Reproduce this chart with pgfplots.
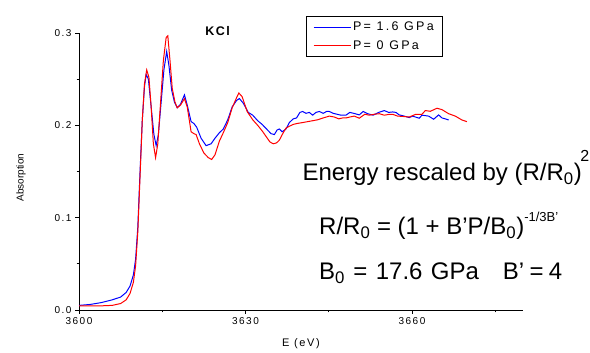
\documentclass[border=0pt]{standalone}
\usepackage{fontspec}
\setmainfont{Liberation Sans}
\newfontfamily\spfont[LetterSpace=15]{Liberation Sans}
\newfontfamily\legfontfam[LetterSpace=18]{Liberation Sans}
\newfontfamily\titlefont[LetterSpace=12]{Liberation Sans Bold}
\usepackage{pgfplots}
\pgfplotsset{compat=1.18}
\begin{document}
\begin{tikzpicture}
\path[use as bounding box] (0,0) rectangle (590pt,353pt);
\begin{axis}[
  at={(79pt,43pt)}, anchor=south west,
  scale only axis, width=444pt, height=277pt,
  xmin=3600, xmax=3680, ymin=0, ymax=0.3,
  clip=false,
  axis x line*=bottom, axis y line*=left,
  axis line style={-, line width=0.8pt, black},
  tick align=outside, major tick length=4pt, minor tick length=2.5pt,
  tick style={black, line width=0.8pt},
  xtick={3600,3630,3660}, minor xtick={3615,3645,3675},
  ytick={0,0.1,0.2,0.3}, minor ytick={0.05,0.15,0.25},
  /pgf/number format/assume math mode=true,
  yticklabel style={/pgf/number format/.cd,fixed,fixed zerofill,precision=1},
  xticklabel style={/pgf/number format/1000 sep={}},
  tick label style={font=\spfont\fontsize{10}{12}\selectfont},
  xlabel={E (eV)}, ylabel={Absorption},
  every axis x label/.style={at={(rel axis cs:0.5,-0.12)}, anchor=center, font=\spfont\fontsize{11}{13}\selectfont},
  every axis y label/.style={at={(rel axis cs:-0.1306,0.478)}, anchor=center, rotate=90, font=\fontsize{10}{12}\selectfont},
  legend style={at={(0.5106,1.062)}, anchor=north west, draw=black, line width=0.6pt,
    font=\legfontfam\fontsize{12.5}{14}\selectfont, inner xsep=7pt, inner ysep=4pt,
    row sep=4pt, cells={anchor=west}},
  legend image code/.code={\draw[#1, line width=1pt] (0pt,0pt) -- (37pt,0pt);},
]
\addplot[blue, line width=1pt] coordinates {
(3600.0,0.0050) (3602.0,0.0060) (3604.0,0.0080) (3606.0,0.0110) (3607.5,0.0140)
(3608.5,0.0190) (3609.2,0.0260) (3609.8,0.0380) (3610.2,0.0550) (3610.6,0.0900)
(3611.0,0.1500) (3611.4,0.2050) (3611.8,0.2420) (3612.1,0.2550) (3612.5,0.2500)
(3613.0,0.2200) (3613.5,0.1900) (3613.9,0.1780) (3614.3,0.1900) (3614.8,0.2250)
(3615.3,0.2600) (3615.8,0.2800) (3616.2,0.2650) (3616.7,0.2380) (3617.2,0.2250)
(3617.7,0.2190) (3618.3,0.2230) (3619.0,0.2330) (3619.5,0.2220) (3620.2,0.2040)
(3620.7,0.2020) (3621.2,0.1980) (3622.0,0.1860) (3622.9,0.1780) (3623.8,0.1800)
(3624.5,0.1860) (3625.3,0.1920) (3626.0,0.1960) (3626.8,0.2060) (3627.6,0.2200)
(3628.4,0.2270) (3628.9,0.2290) (3629.6,0.2240) (3630.5,0.2140) (3631.3,0.2110)
(3632.2,0.2050) (3633.0,0.2010) (3633.8,0.1960) (3634.6,0.1910) (3635.2,0.1900)
(3635.7,0.1950) (3636.1,0.1960) (3636.6,0.1930) (3637.3,0.1960) (3637.9,0.2030)
(3638.6,0.2070) (3639.2,0.2080) (3639.8,0.2140) (3640.3,0.2150) (3640.9,0.2130)
(3641.5,0.2140) (3642.1,0.2110) (3642.7,0.2140) (3643.3,0.2150) (3644.0,0.2130)
(3644.6,0.2150) (3645.1,0.2150) (3645.8,0.2130) (3646.5,0.2120) (3647.2,0.2110)
(3648.1,0.2110) (3648.8,0.2140) (3649.5,0.2130) (3650.5,0.2113) (3651.2,0.2150)
(3652.0,0.2126) (3653.0,0.2110) (3654.0,0.2140) (3655.0,0.2160) (3655.8,0.2140)
(3656.5,0.2145) (3657.1,0.2140) (3657.7,0.2113) (3658.6,0.2100) (3659.5,0.2084)
(3660.1,0.2100) (3661.3,0.2077) (3661.8,0.2110) (3663.0,0.2100) (3663.9,0.2066)
(3664.8,0.2113) (3665.4,0.2080) (3666.0,0.2070) (3666.6,0.2058)
};
\addlegendentry{P= 1.6 GPa}
\addplot[red, line width=1pt] coordinates {
(3600.0,0.0045) (3602.0,0.0045) (3604.0,0.0045) (3606.0,0.0050) (3607.5,0.0070)
(3608.5,0.0110) (3609.2,0.0180) (3609.8,0.0300) (3610.2,0.0480) (3610.6,0.0850)
(3611.0,0.1450) (3611.4,0.2050) (3611.8,0.2450) (3612.2,0.2600) (3612.6,0.2520)
(3613.0,0.2200) (3613.4,0.1800) (3613.8,0.1650) (3614.2,0.1800) (3614.7,0.2250)
(3615.2,0.2700) (3615.7,0.2950) (3616.0,0.2970) (3616.4,0.2700) (3616.8,0.2400)
(3617.3,0.2250) (3617.7,0.2190) (3618.3,0.2220) (3619.0,0.2290) (3619.5,0.2200)
(3620.2,0.1930) (3620.7,0.1910) (3621.1,0.1900) (3621.7,0.1800) (3622.5,0.1700)
(3623.3,0.1650) (3623.9,0.1630) (3624.5,0.1680) (3625.3,0.1830) (3626.0,0.1920)
(3626.8,0.2030) (3627.6,0.2190) (3628.4,0.2300) (3628.8,0.2350) (3629.4,0.2310)
(3630.3,0.2150) (3631.3,0.2060) (3632.2,0.2000) (3633.0,0.1940) (3633.7,0.1880)
(3634.4,0.1820) (3635.0,0.1800) (3635.6,0.1810) (3636.1,0.1840) (3636.8,0.1920)
(3637.3,0.1970) (3637.9,0.1990) (3638.6,0.2010) (3639.3,0.2020) (3640.3,0.2030)
(3641.2,0.2040) (3642.1,0.2050) (3643.0,0.2060) (3644.0,0.2080) (3645.1,0.2100)
(3646.0,0.2090) (3646.8,0.2070) (3647.5,0.2080) (3648.1,0.2080) (3648.8,0.2090)
(3649.6,0.2100) (3650.5,0.2077) (3651.5,0.2120) (3652.3,0.2110) (3653.2,0.2120)
(3654.1,0.2126) (3655.0,0.2110) (3656.0,0.2120) (3656.5,0.2120) (3657.4,0.2100)
(3658.2,0.2097) (3659.5,0.2090) (3660.7,0.2120) (3661.8,0.2120) (3662.4,0.2160)
(3663.3,0.2152) (3664.5,0.2185) (3665.4,0.2170) (3666.6,0.2126) (3667.8,0.2100)
(3669.0,0.2058) (3669.9,0.2040)
};
\addlegendentry{P= 0 GPa}
\node[inner sep=0pt, anchor=base, font=\titlefont\fontsize{12.5}{14}\selectfont] at (rel axis cs:0.3124,0.990) {KCl};
\node[inner sep=0pt, anchor=base west, font=\fontsize{24}{28}\selectfont] at (rel axis cs:0.503,0.4657)
  {Energy rescaled by (R/R\textsubscript{0})\hspace{-1.5pt}\raisebox{19pt}{\fontsize{16}{16}\selectfont 2}};
\node[inner sep=0pt, anchor=base west, font=\fontsize{24}{28}\selectfont] at (rel axis cs:0.5405,0.2733)
  {R/R\textsubscript{0} = (1 + B'P/B\textsubscript{0})\raisebox{12.5pt}{\fontsize{13}{13}\selectfont -1/3B'}};
\node[inner sep=0pt, anchor=base west, font=\fontsize{24}{28}\selectfont] at (rel axis cs:0.5405,0.1083)
  {B\textsubscript{0}\hspace{0.35em}=\hspace{0.35em}17.6\hspace{0.35em}GPa\hspace{1em}B'\hspace{0.22em}=\hspace{0.22em}4};
\end{axis}
\end{tikzpicture}
\end{document}
